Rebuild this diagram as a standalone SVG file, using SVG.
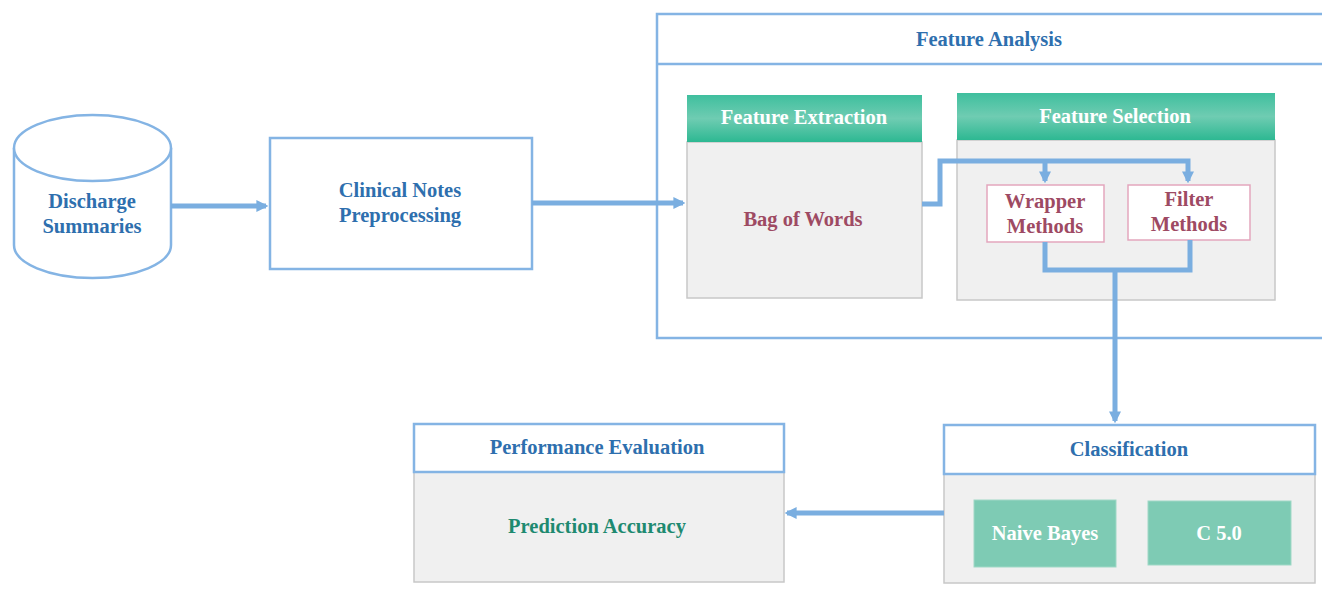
<svg xmlns="http://www.w3.org/2000/svg" width="1322" height="600" viewBox="0 0 1322 600">
<defs>
<linearGradient id="teal" x1="0" y1="0" x2="0" y2="1">
<stop offset="0" stop-color="#3fbf9e"/><stop offset="0.5" stop-color="#6fccb2"/><stop offset="1" stop-color="#2db892"/>
</linearGradient>
<marker id="ah" viewBox="0 0 10 10" refX="8" refY="5" markerWidth="2.4" markerHeight="2.4" orient="auto" markerUnits="strokeWidth">
<path d="M0,0 L10,5 L0,10 Z" fill="#7aaee0"/>
</marker>
<style>
text{font-family:"Liberation Serif","Times New Roman",serif;font-weight:bold;text-anchor:middle;font-size:20.5px}
.blue{fill:#2e6fae}
.wht{fill:#ffffff}
.red{fill:#9e4a63}
.grn{fill:#1e8a70}
.bl{fill:#ffffff;stroke:#84b4e4;stroke-width:2.5}
.body{fill:#f0f0f0;stroke:#c8c8c8;stroke-width:1.5}
.pink{fill:#ffffff;stroke:#e3a6bd;stroke-width:1.5}
.mint{fill:#7ecbb4;stroke:#9fd8c6;stroke-width:1}
.conn{fill:none;stroke:#7aaee0;stroke-width:5}
</style>
</defs>

<g id="feature-analysis">
<rect x="657" y="14" width="680" height="324" class="bl"/>
<line x1="657" y1="64" x2="1337" y2="64" stroke="#84b4e4" stroke-width="2.5"/>
<text x="989" y="46" class="blue">Feature Analysis</text>
</g>

<g id="discharge-summaries">
<path d="M14,148 L14,245 A78.5,33 0 0 0 171,245 L171,148" fill="#ffffff" stroke="#84b4e4" stroke-width="2.5"/>
<ellipse cx="92.5" cy="148" rx="78.5" ry="33" fill="#ffffff" stroke="#84b4e4" stroke-width="2.5"/>
<text x="92" y="208" class="blue">Discharge</text>
<text x="92" y="233" class="blue">Summaries</text>
</g>

<g id="clinical-notes">
<rect x="270" y="138" width="262" height="131" class="bl"/>
<text x="400" y="197" class="blue">Clinical Notes</text>
<text x="400" y="222" class="blue">Preprocessing</text>
</g>

<g id="feature-extraction">
<rect x="687" y="142" width="235" height="156" class="body"/>
<rect x="687" y="95" width="235" height="47" fill="url(#teal)"/>
<text x="804" y="124" class="wht">Feature Extraction</text>
<text x="803" y="226" class="red">Bag of Words</text>
</g>

<g id="feature-selection">
<rect x="957" y="140" width="318" height="160" class="body"/>
<rect x="957" y="93" width="318" height="47" fill="url(#teal)"/>
<text x="1115" y="123" class="wht">Feature Selection</text>
</g>

<g id="wrapper-methods">
<rect x="987" y="185" width="117" height="57" class="pink"/>
<text x="1045" y="208" class="red">Wrapper</text>
<text x="1045" y="233" class="red">Methods</text>
</g>

<g id="filter-methods">
<rect x="1128" y="185" width="122" height="55" class="pink"/>
<text x="1189" y="206" class="red">Filter</text>
<text x="1189" y="231" class="red">Methods</text>
</g>

<g id="classification">
<rect x="944" y="474" width="371" height="109" class="body"/>
<rect x="944" y="425" width="371" height="49" class="bl"/>
<text x="1129" y="456" class="blue">Classification</text>
</g>

<g id="naive-bayes">
<rect x="974" y="500" width="142" height="67" class="mint"/>
<text x="1045" y="540" class="wht">Naive Bayes</text>
</g>

<g id="c50">
<rect x="1148" y="501" width="143" height="64" class="mint"/>
<text x="1219" y="540" class="wht">C 5.0</text>
</g>

<g id="performance-evaluation">
<rect x="414" y="472" width="370" height="110" class="body"/>
<rect x="414" y="424" width="370" height="48" class="bl"/>
<text x="597" y="454" class="blue">Performance Evaluation</text>
<text x="597" y="533" class="grn">Prediction Accuracy</text>
</g>

<g id="connectors">
<path d="M171,206 L266,206" class="conn" marker-end="url(#ah)"/>
<path d="M532,203 L683,203" class="conn" marker-end="url(#ah)"/>
<path d="M922,204 L940,204 L940,161 L1188,161 L1188,181" class="conn" marker-end="url(#ah)"/>
<path d="M1045,161 L1045,181" class="conn" marker-end="url(#ah)"/>
<path d="M1045,242 L1045,270 L1190,270 L1190,240" class="conn"/>
<path d="M1115,270 L1115,421" class="conn" marker-end="url(#ah)"/>
<path d="M944,513 L787,513" class="conn" marker-end="url(#ah)"/>
</g>
</svg>
